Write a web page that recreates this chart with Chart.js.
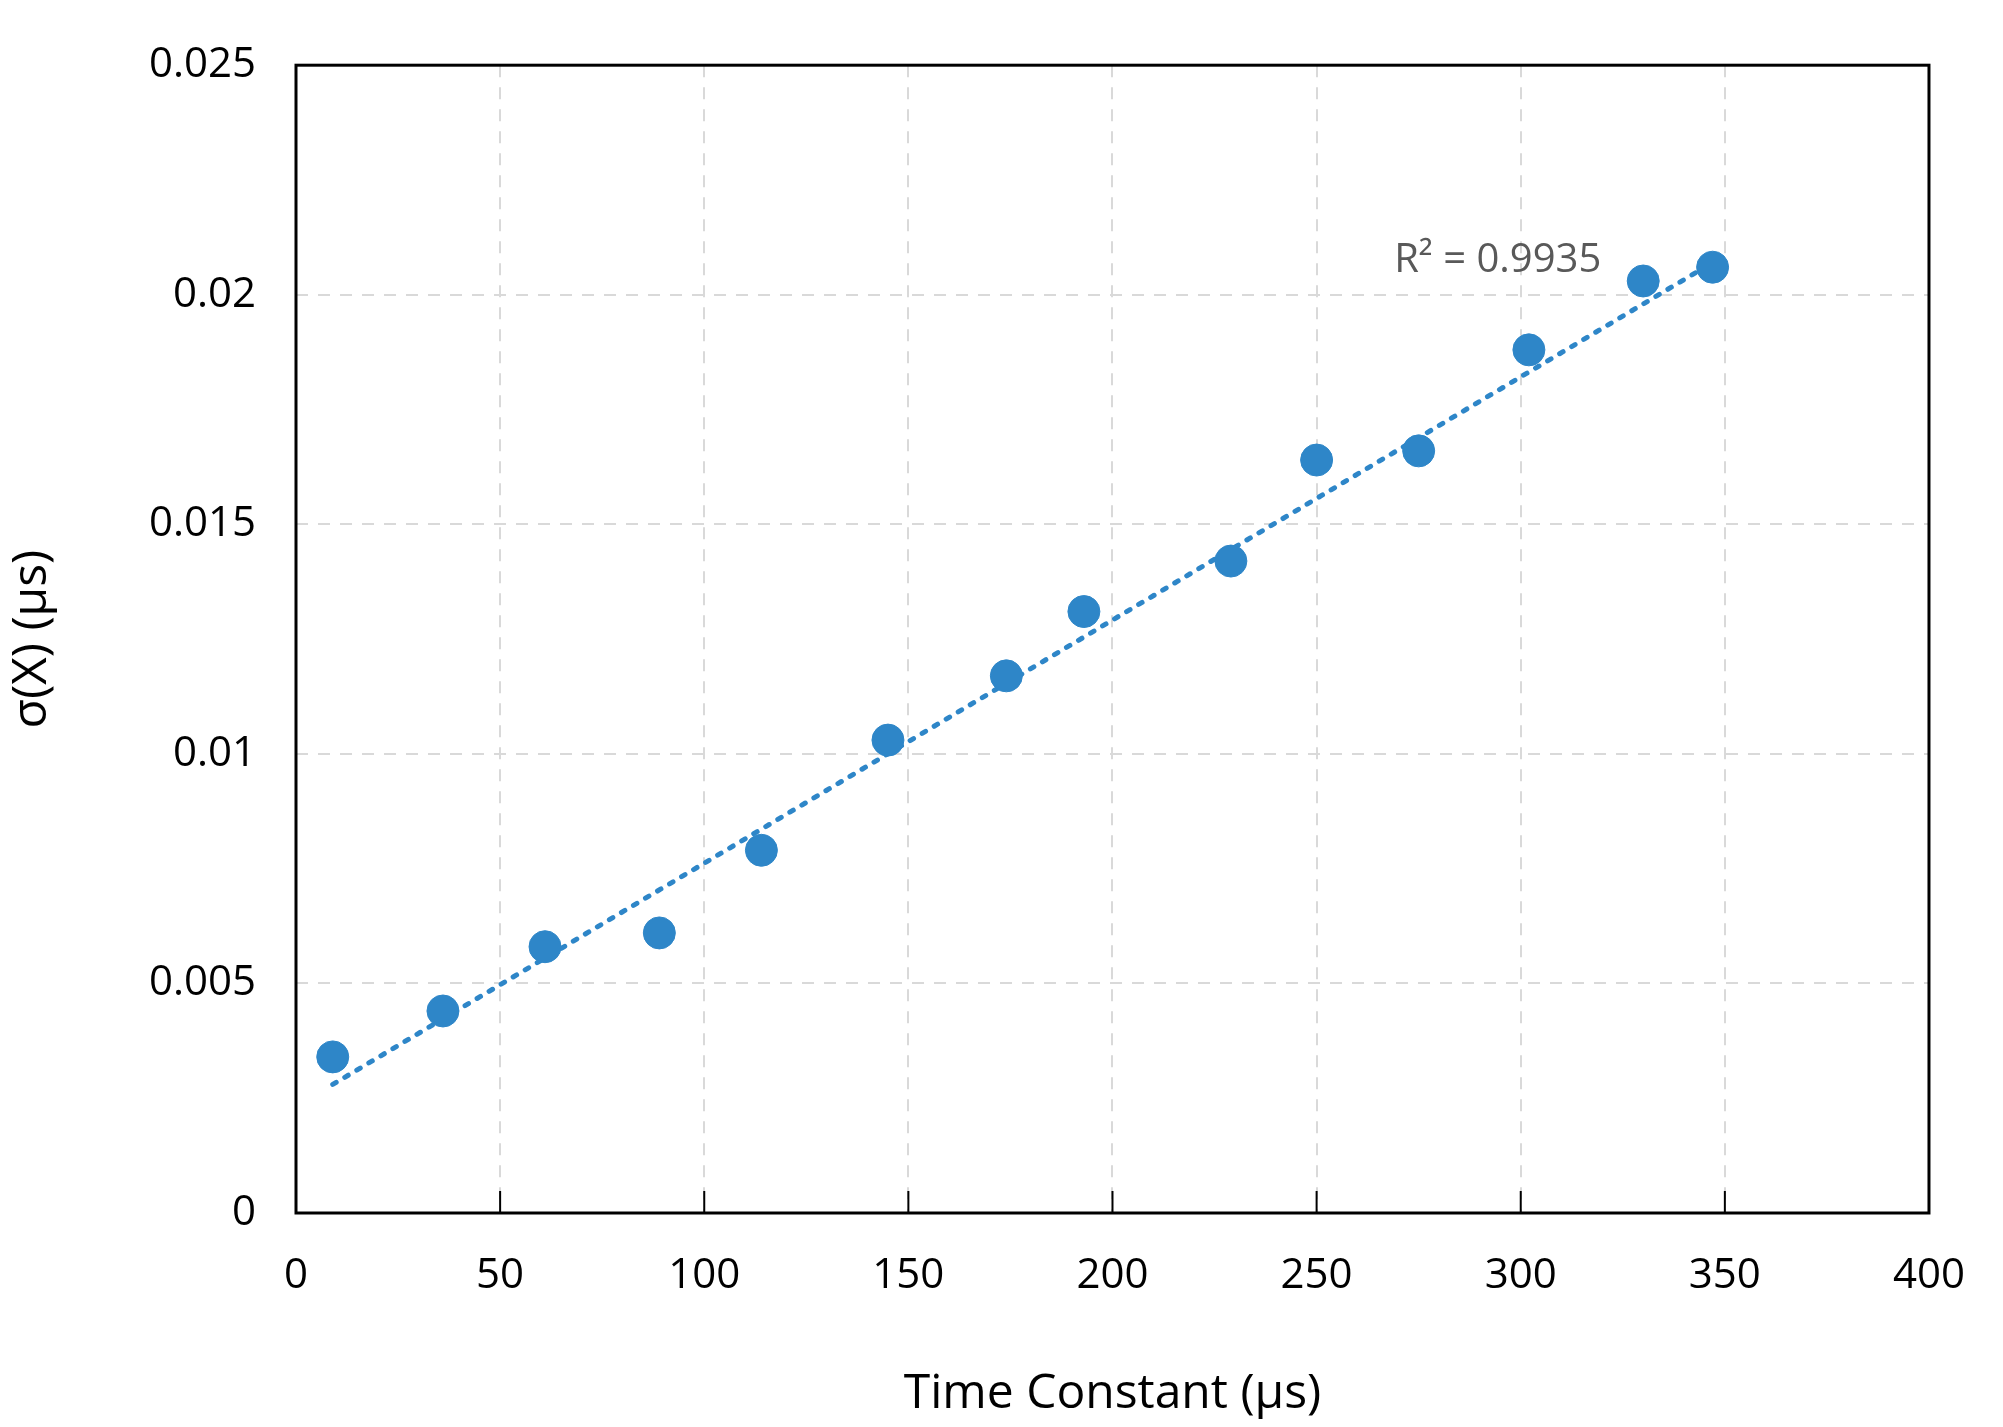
<!DOCTYPE html>
<html><head><meta charset="utf-8">
<script src="https://cdn.jsdelivr.net/npm/chart.js@4"></script>
<style>html,body{margin:0;padding:0;background:#fff}#c{display:block}</style>
</head><body>
<div style="width:2003px;height:1427px"><canvas id="c"></canvas></div>
<script>
const timeConstant = [9, 36, 61, 89, 114, 145, 174, 193, 229, 250, 275, 302, 330, 347];
const sigmaX = [0.0034, 0.0044, 0.0058, 0.0061, 0.0079, 0.0103, 0.0117, 0.0131, 0.0142, 0.0164, 0.0166, 0.0188, 0.0203, 0.0206];
const trendX = [9, 347];
const trendY = [0.0028, 0.0207];
const r2Label = 'R² = 0.9935';
const xTicks = [0, 50, 100, 150, 200, 250, 300, 350, 400];
const yTicks = [0, 0.005, 0.01, 0.015, 0.02, 0.025];
const FONT = "'Open Sans', sans-serif";

const frame = {
  id: 'frame',
  afterDraw(chart) {
    const {ctx, chartArea: a, scales} = chart;
    ctx.save();
    ctx.strokeStyle = '#000';
    ctx.lineWidth = 3;
    ctx.strokeRect(a.left, a.top, a.right - a.left, a.bottom - a.top);
    ctx.lineWidth = 2;
    xTicks.forEach(v => {
      const x = scales.x.getPixelForValue(v);
      ctx.beginPath(); ctx.moveTo(x, a.bottom); ctx.lineTo(x, a.bottom - 22); ctx.stroke();
    });
    ctx.fillStyle = '#595959';
    ctx.font = "40px " + FONT;
    ctx.textAlign = 'left'; ctx.textBaseline = 'alphabetic';
    ctx.fillText(r2Label, scales.x.getPixelForValue(269), scales.y.getPixelForValue(0.0205));
    ctx.restore();
  }
};

new Chart(document.getElementById('c'), {
  type: 'scatter',
  data: {
    datasets: [
      { data: timeConstant.map((x, i) => ({x, y: sigmaX[i]})), backgroundColor: '#2e86c8', borderColor: '#2e86c8', pointRadius: 16, pointHoverRadius: 16 },
      { type: 'line', data: trendX.map((x, i) => ({x, y: trendY[i]})), borderColor: '#2e86c8', borderWidth: 5, borderDash: [4, 10], borderCapStyle: 'round', pointRadius: 0, fill: false }
    ]
  },
  options: {
    responsive: true, maintainAspectRatio: false, animation: false,
    layout: { padding: { left: 0, right: 56, top: 42, bottom: 0 } },
    plugins: { legend: { display: false }, tooltip: { enabled: false } },
    scales: {
      x: {
        type: 'linear', min: 0, max: 400,
        afterBuildTicks: s => { s.ticks = xTicks.map(v => ({value: v})); },
        afterFit: s => { s.height = 214; },
        grid: { color: '#d9d9d9', lineWidth: 2, drawTicks: false },
        border: { display: false, dash: [12, 10] },
        ticks: { color: '#000', font: { family: FONT, size: 42 }, padding: 38 },
        title: { display: true, text: 'Time Constant (µs)', color: '#000', font: { family: FONT, size: 48 }, padding: { top: 20 } }
      },
      y: {
        type: 'linear', min: 0, max: 0.025,
        afterBuildTicks: s => { s.ticks = yTicks.map(v => ({value: v})); },
        afterFit: s => { s.width = 296; },
        grid: { color: '#d9d9d9', lineWidth: 2, drawTicks: false },
        border: { display: false, dash: [12, 10] },
        ticks: { color: '#000', font: { family: FONT, size: 42 }, padding: 40, callback: v => String(+v.toFixed(3)) },
        title: { display: true, text: 'σ(X) (µs)', color: '#000', font: { family: FONT, size: 48 }, padding: { bottom: 10 } }
      }
    }
  },
  plugins: [frame]
});
</script>
</body></html>
